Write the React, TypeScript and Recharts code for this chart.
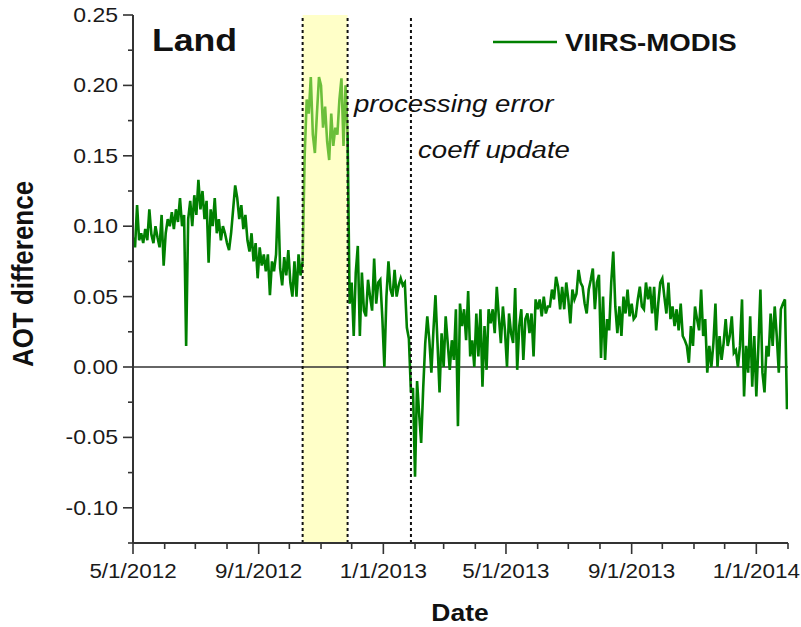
import React from 'react';
import { LineChart, Line, XAxis, YAxis, ReferenceArea, ReferenceLine, Legend } from 'recharts';

// ---------- data ----------
const START = Date.UTC(2012, 4, 1);
const DAY = 86400000;
const STEP = 2; // days between plotted observations

const landBeforeStart = '2012-05-01';
const landBefore = [
  0.092, 0.085, 0.115, 0.09, 0.095, 0.088, 0.098, 0.09, 0.112, 0.094,
  0.088, 0.1, 0.092, 0.085, 0.108, 0.072, 0.095, 0.105, 0.1, 0.11,
  0.098, 0.112, 0.103, 0.12, 0.1, 0.108, 0.015, 0.105, 0.118, 0.1,
  0.122, 0.108, 0.133, 0.112, 0.125, 0.105, 0.118, 0.074, 0.112, 0.1,
  0.12, 0.095, 0.105, 0.09, 0.1, 0.095, 0.088, 0.083, 0.095, 0.112,
  0.129, 0.12, 0.105, 0.115, 0.098, 0.108, 0.09, 0.082, 0.095, 0.075,
  0.088, 0.063, 0.085, 0.072, 0.08, 0.068, 0.08, 0.051, 0.075, 0.068,
  0.08, 0.121, 0.07, 0.058, 0.078, 0.065, 0.083, 0.06, 0.05, 0.075,
  0.05, 0.08, 0.065, 0.075,
];

const errorStart = '2012-10-14';
const errorValues = [
  0.075, 0.15, 0.19, 0.18, 0.206, 0.165, 0.152, 0.18, 0.206, 0.2,
  0.17, 0.185, 0.16, 0.147, 0.18, 0.157, 0.17, 0.165, 0.19, 0.205,
  0.157, 0.2, 0.165,
];
const errorEnd = '2012-11-27';

const landAfterStart = '2012-11-27';
const landAfter = [
  0.165, 0.045, 0.06, 0.022, 0.067, 0.086, 0.022, 0.067, 0.04, 0.036,
  0.062, 0.05, 0.04, 0.077, 0.045, 0.06, 0.062, 0.035, 0.0, 0.05,
  0.075, 0.055, 0.05, 0.069, 0.05, 0.058, 0.063, 0.058, 0.06, 0.028,
  0.02, -0.018,
];

const coeffUpdate = '2013-01-28';

const landUpdatedStart = '2013-01-30';
const landUpdated = [
  -0.015, -0.078, -0.01, -0.033, -0.054, -0.015, 0.017, 0.036, 0.019, -0.004,
  0.026, 0.051, 0.017, -0.018, 0.024, 0.0, 0.036, 0.017, -0.002, 0.019,
  0.005, 0.041, -0.042, 0.045, 0.029, 0.041, 0.019, 0.054, 0.0075, 0.019,
  0.0, 0.038, 0.0075, 0.041, -0.014, 0.029, -0.002, 0.041, 0.031, 0.041,
  0.024, 0.057, 0.036, 0.017, 0.043, 0.026, 0.0, 0.038, 0.024, 0.017,
  0.056, -0.002, 0.029, 0.041, 0.005, 0.034, 0.038, 0.024, 0.038, 0.0075,
  0.048, 0.041, 0.048, 0.036, 0.05, 0.038, 0.043, 0.043, 0.055, 0.048,
  0.064, 0.057, 0.041, 0.057, 0.041, 0.06, 0.048, 0.031, 0.055, 0.048,
  0.052, 0.069, 0.06, 0.057, 0.045, 0.038, 0.055, 0.062, 0.07, 0.041,
  0.06, 0.0655, 0.0064, 0.05, 0.005, 0.034, 0.026, 0.06, 0.082, 0.043,
  0.024, 0.043, 0.022, 0.05, 0.038, 0.055, 0.036, 0.045, 0.034, 0.036,
  0.048, 0.057, 0.043, 0.041, 0.06, 0.048, 0.057, 0.038, 0.057, 0.026,
  0.045, 0.06, 0.063, 0.05, 0.038, 0.06, 0.034, 0.043, 0.029, 0.041,
  0.026, 0.045, 0.022, 0.019, 0.015, 0.003, 0.029, 0.015, 0.043, 0.034,
  0.026, 0.055, 0.022, 0.034, -0.004, 0.015, 0.0, 0.017, 0.045, 0.0,
  0.022, 0.005, 0.017, 0.034, 0.015, 0.022, 0.036, 0.01, 0.012, 0.0,
  0.015, 0.048, -0.021, 0.015, -0.004, 0.036, -0.014, 0.022, -0.021, 0.015,
  0.055, -0.004, -0.018, 0.015, 0.0075, 0.038, 0.015, 0.043, 0.022, -0.004,
  0.041, 0.045, 0.048, -0.03,
];

const axisEnd = '2014-02-01';
const majorLabels = ['5/1/2012', '9/1/2012', '1/1/2013', '5/1/2013', '9/1/2013', '1/1/2014'];
const yTicks = [-0.125, -0.1, -0.075, -0.05, -0.025, 0, 0.025, 0.05, 0.075, 0.1, 0.125, 0.15, 0.175, 0.2, 0.225, 0.25];
const yDomain = [-0.125, 0.25];
const seriesName = 'VIIRS-MODIS';

// ---------- build table ----------
const dayOf = (iso: string) => Math.round((Date.parse(iso + 'T00:00:00Z') - START) / DAY);

type Row = { day: number; land?: number | null; err?: number | null };
const rowMap = new Map<number, Row>();
const put = (startIso: string, vals: number[], key: 'land' | 'err') => {
  const s = dayOf(startIso);
  vals.forEach((v, i) => {
    const d = s + i * STEP;
    const r = rowMap.get(d) || { day: d, land: null, err: null };
    r[key] = v;
    rowMap.set(d, r);
  });
};
put(landBeforeStart, landBefore, 'land');
put(errorStart, errorValues, 'err');
put(landAfterStart, landAfter, 'land');
put(landUpdatedStart, landUpdated, 'land');
const data: Row[] = Array.from(rowMap.values()).sort((a, b) => a.day - b.day);

const endDay = dayOf(axisEnd);
const monthTicks: number[] = [];
const monthLabel: Record<number, string> = {};
for (let m = 0; ; m++) {
  const t = Date.UTC(2012, 4 + m, 1);
  const d = Math.round((t - START) / DAY);
  if (d > endDay) break;
  monthTicks.push(d);
  const dt = new Date(t);
  monthLabel[d] = `${dt.getUTCMonth() + 1}/${dt.getUTCDate()}/${dt.getUTCFullYear()}`;
}

// ---------- styles ----------
const FONT = '"Liberation Sans", Arial, Helvetica, sans-serif';
const DARK = '#008000';
const LIGHT = '#6cbf3a';
const AXIS = '#333333';
const SX = 1.15;

const YTick = (props: any) => {
  const { x, y, payload } = props;
  const v = payload.value as number;
  const major = Math.abs(v * 20 - Math.round(v * 20)) < 1e-6;
  return (
    <g>
      <line x1={x - (major ? 10 : 5)} x2={x} y1={y} y2={y} stroke={AXIS} strokeWidth={1.6} />
      {major && (
        <text
          transform={`translate(${x - 15},${y + 7}) scale(${SX},1)`}
          textAnchor="end"
          fontFamily={FONT}
          fontSize={20}
          fill="#1a1a1a"
        >
          {v.toFixed(2)}
        </text>
      )}
    </g>
  );
};

const XTick = (props: any) => {
  const { x, y, payload } = props;
  const lbl = monthLabel[payload.value as number];
  const major = majorLabels.includes(lbl);
  return (
    <g>
      <line x1={x} x2={x} y1={y} y2={y + (major ? 11 : 6)} stroke={AXIS} strokeWidth={1.6} />
      {major && (
        <text
          transform={`translate(${x},${y + 35}) scale(${SX},1)`}
          textAnchor="middle"
          fontFamily={FONT}
          fontSize={19.5}
          fill="#1a1a1a"
        >
          {lbl}
        </text>
      )}
    </g>
  );
};

const LegendContent = () => (
  <svg width={270} height={34} style={{ display: 'block' }}>
    <line x1={0} x2={64} y1={14} y2={14} stroke={DARK} strokeWidth={2.5} />
    <text transform={`translate(72,23) scale(${SX},1)`} fontFamily={FONT} fontWeight="bold" fontSize={24} fill="#111">
      {seriesName}
    </text>
  </svg>
);

export default function App() {
  return (
    <div style={{ position: 'absolute', left: 0, top: 0, width: 801, height: 627, background: '#fff' }}>
      <LineChart width={801} height={627} data={data} margin={{ top: 15, right: 13, bottom: 0, left: 0 }}>
        <ReferenceArea x1={dayOf(errorStart)} x2={dayOf(errorEnd)} y1={yDomain[0]} y2={yDomain[1]} fill="#ffffc8" fillOpacity={1} stroke="none" ifOverflow="hidden" />
        <XAxis
          dataKey="day"
          type="number"
          domain={[0, endDay]}
          ticks={monthTicks}
          interval={0}
          height={84}
          tickSize={0}
          tickMargin={0}
          tickLine={false}
          axisLine={{ stroke: AXIS, strokeWidth: 2 }}
          tick={<XTick />}
          allowDataOverflow
        />
        <XAxis xAxisId="top" orientation="top" type="number" domain={[0, endDay]} height={0} tick={false} tickLine={false} axisLine={{ stroke: AXIS, strokeWidth: 2 }} />
        <YAxis
          type="number"
          domain={yDomain}
          ticks={yTicks}
          interval={0}
          width={133}
          tickSize={0}
          tickMargin={0}
          tickLine={false}
          axisLine={{ stroke: AXIS, strokeWidth: 2 }}
          tick={<YTick />}
          allowDataOverflow
        />
        <YAxis yAxisId="right" orientation="right" type="number" domain={yDomain} width={0} tick={false} tickLine={false} axisLine={{ stroke: AXIS, strokeWidth: 2 }} />
        <ReferenceLine y={0} stroke={AXIS} strokeWidth={1.6} />
        <Line type="linear" dataKey="err" stroke={LIGHT} strokeWidth={2.6} dot={false} activeDot={false} isAnimationActive={false} connectNulls={false} legendType="none" />
        <Line type="linear" dataKey="land" name={seriesName} stroke={DARK} strokeWidth={2.6} dot={false} activeDot={false} isAnimationActive={false} connectNulls={false} />
        <ReferenceLine x={dayOf(errorStart)} stroke="#111" strokeWidth={2} strokeDasharray="3 3" />
        <ReferenceLine x={dayOf(errorEnd)} stroke="#111" strokeWidth={2} strokeDasharray="3 3" />
        <ReferenceLine x={dayOf(coeffUpdate)} stroke="#111" strokeWidth={2} strokeDasharray="3 3" />
        <Legend
          layout="horizontal"
          verticalAlign="middle"
          align="center"
          content={<LegendContent />}
          wrapperStyle={{ position: 'absolute', left: 493, top: 28, width: 270, height: 34 }}
        />
      </LineChart>
      <svg width={801} height={627} style={{ position: 'absolute', left: 0, top: 0, pointerEvents: 'none' }}>
        <text transform={`translate(152,51) scale(${SX},1)`} fontFamily={FONT} fontWeight="bold" fontSize={31} fill="#111">Land</text>
        <text transform={`translate(354,112) scale(${SX},1)`} fontFamily={FONT} fontStyle="italic" fontSize={24} fill="#111">processing error</text>
        <text transform={`translate(418,158) scale(${SX},1)`} fontFamily={FONT} fontStyle="italic" fontSize={24} fill="#111">coeff update</text>
        <text transform={`translate(460,621) scale(${SX},1)`} textAnchor="middle" fontFamily={FONT} fontWeight="bold" fontSize={23} fill="#111">Date</text>
        <text transform={`translate(33,274) scale(${SX},1) rotate(-90)`} textAnchor="middle" fontFamily={FONT} fontWeight="bold" fontSize={26} fill="#111">AOT difference</text>
      </svg>
    </div>
  );
}
